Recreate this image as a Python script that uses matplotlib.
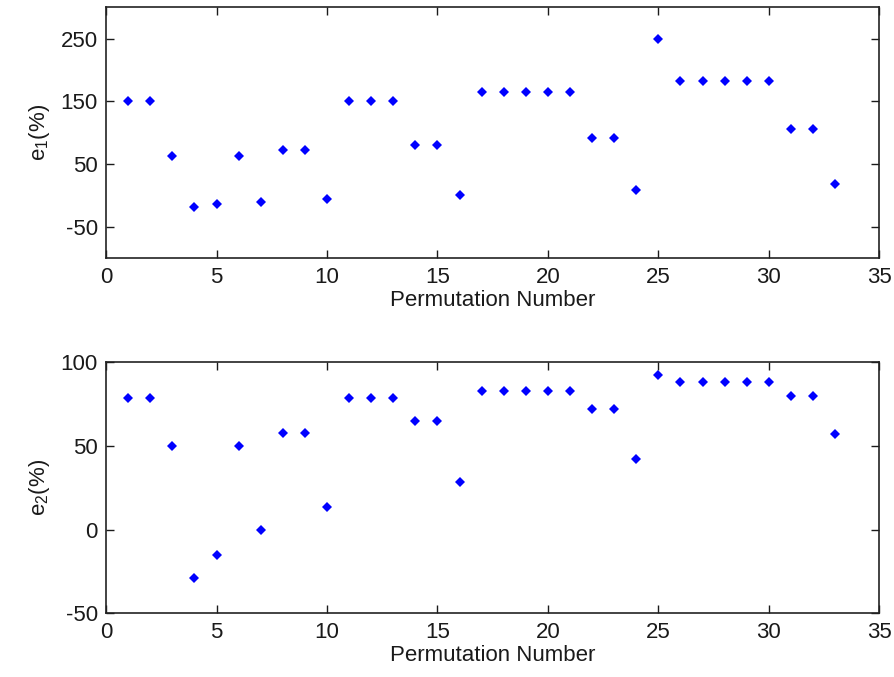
import numpy as np
import matplotlib.pyplot as plt

# values
perm = list(range(1, 34))
e1 = [150, 150, 63, -19, -13, 63, -10, 72, 72, -5,
      150, 150, 150, 80, 80, 1, 165, 165, 165, 165,
      165, 91, 91, 9, 250, 182, 182, 182, 182, 182,
      106, 106, 18]
e2 = [78.6, 78.6, 50, -29, -15, 50, 0, 57.5, 57.5, 13.8,
      78.6, 78.6, 78.6, 65, 65, 28.5, 83, 83, 83, 83,
      83, 72.3, 72.3, 42.5, 92.6, 88.2, 88.2, 88.2, 88.2, 88.2,
      79.8, 79.8, 57.3]

plt.rcParams['font.family'] = ['Liberation Sans', 'DejaVu Sans']
plt.rcParams['mathtext.default'] = 'regular'
plt.rcParams['axes.unicode_minus'] = False
plt.rcParams['font.size'] = 16
txt = '#1a1a1a'

fig = plt.figure(figsize=(8.94, 6.77), dpi=100)
ax1 = fig.add_axes([0.1186, 0.6185, 0.865, 0.3707])
ax2 = fig.add_axes([0.1186, 0.0941, 0.865, 0.3707])

panels = [
    (ax1, e1, 'e$_1$(%)', (-100, 300), [-50, 50, 150, 250]),
    (ax2, e2, 'e$_2$(%)', (-50, 100), [-50, 0, 50, 100]),
]
for ax, vals, lab, ylim, yt in panels:
    ax.plot(perm, vals, linestyle='none', marker='D', markersize=5.2,
            color='blue', markeredgewidth=0)
    ax.set_xlim(0, 35)
    ax.set_ylim(*ylim)
    ax.set_xticks(range(0, 36, 5))
    ax.set_yticks(yt)
    ax.tick_params(direction='in', length=6, width=1, top=True, right=True,
                   labelsize=16, colors=txt, pad=6)
    for s in ax.spines.values():
        s.set_linewidth(1.2)
        s.set_color('#222222')
    ax.set_xlabel('Permutation Number', fontsize=16, color=txt, labelpad=2)
    ax.set_ylabel(lab, fontsize=16, color=txt, labelpad=6)

fig.savefig('out.png', dpi=100)
